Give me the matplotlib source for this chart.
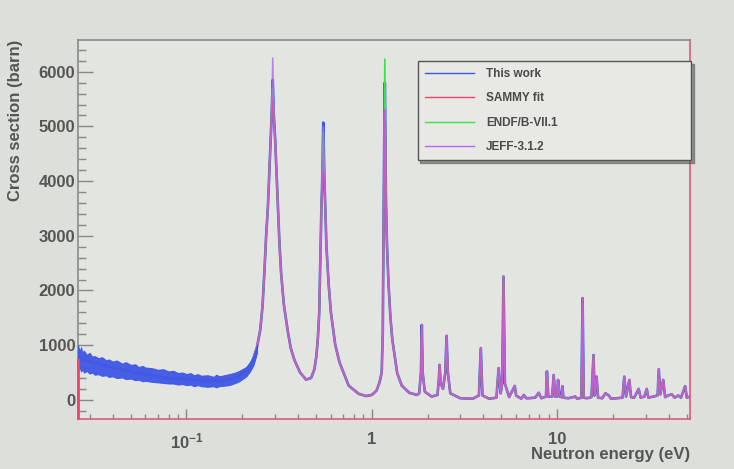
import matplotlib
matplotlib.use('Agg')
import matplotlib.pyplot as plt
from matplotlib.ticker import FixedLocator, LogLocator, MultipleLocator, NullFormatter
import numpy as np

plt.rcParams['font.family'] = ['Liberation Sans', 'DejaVu Sans']
plt.rcParams['mathtext.fontset'] = 'custom'
plt.rcParams['mathtext.rm'] = 'Liberation Sans'
plt.rcParams['mathtext.bf'] = 'Liberation Sans:bold'

# energy grid (eV) and SAMMY-like shape (barn)
energy = [0.026, 0.03, 0.035, 0.04, 0.05, 0.06, 0.07, 0.08, 0.1, 0.12, 0.14, 0.16, 0.18, 0.2,
          0.215, 0.228, 0.24, 0.25, 0.257, 0.263, 0.269, 0.275, 0.28, 0.284, 0.288, 0.292,
          0.296, 0.301, 0.306, 0.311, 0.317, 0.324, 0.335, 0.351, 0.365, 0.382, 0.41, 0.442,
          0.47, 0.49, 0.502, 0.512, 0.52, 0.524, 0.528, 0.534, 0.54, 0.547, 0.555, 0.562,
          0.569, 0.585, 0.602, 0.635, 0.67, 0.75, 0.85, 0.93, 1.0, 1.06, 1.1, 1.13, 1.145,
          1.15, 1.16, 1.168, 1.175, 1.182, 1.19, 1.205, 1.23, 1.26, 1.29, 1.37, 1.45, 1.59,
          1.75, 1.8, 1.84, 1.86, 1.88, 1.93, 2.1, 2.26, 2.3, 2.32, 2.35, 2.42, 2.49, 2.53,
          2.57, 2.65, 3.0, 3.5, 3.78, 3.87, 3.95, 4.3, 4.7, 4.83, 4.95, 5.05, 5.13, 5.22,
          5.5, 5.9, 6.0, 6.4, 6.6, 6.8, 7.0, 7.6, 7.95, 8.2, 8.7, 8.8, 8.95, 9.4, 9.57, 9.75,
          10.0, 10.1, 10.3, 10.55, 10.66, 10.8, 11.5, 12.5, 12.8, 13.5, 13.7, 13.9, 14.5,
          15.3, 15.7, 15.9, 16.3, 16.6, 17.5, 18.2, 19.0, 19.5, 21.0, 22.5, 23.0, 23.5, 24.5,
          25.0, 26.0, 27.5, 28.2, 29.5, 30.4, 31.0, 33.0, 34.8, 35.3, 36.0, 37.3, 38.2, 39.5,
          41.5, 43.0, 45.0, 46.5, 49.0, 50.0, 52.0]
shape = [760, 700, 640, 590, 520, 470, 430, 400, 370, 350, 345, 360, 400, 470,
         560, 730, 960, 1280, 1700, 2316, 3000, 3535, 4200, 4750, 5200, 5500,
         5200, 4750, 4150, 3535, 2900, 2316, 1750, 1280, 950, 730, 500, 370,
         400, 560, 800, 1150, 1585, 2150, 2800, 3450, 4020, 4200, 4020, 3400,
         2800, 2100, 1585, 1000, 680, 260, 110, 70, 90, 170, 320, 500, 1200,
         2120, 3770, 5000, 5300, 5000, 3770, 2900, 2120, 1500, 1097, 490, 260, 130,
         90, 120, 500, 1370, 500, 150, 60, 90, 400, 640, 300, 200, 500, 1170,
         500, 120, 30, 20, 80, 945, 80, 20, 40, 580, 120, 300, 2255, 300,
         50, 255, 80, 20, 90, 30, 30, 40, 130, 30, 60, 520, 60, 60, 455, 60,
         60, 365, 60, 50, 250, 40, 30, 60, 20, 40, 1860, 40, 30,
         50, 820, 80, 425, 40, 30, 120, 80, 20, 30, 40, 425, 60, 365,
         50, 40, 200, 40, 60, 200, 40, 60, 80, 560, 100, 365, 50, 80,
         100, 40, 80, 40, 250, 40, 60]

# energies of the three big resonances and each curve's peak height there
big_peaks = [0.292, 0.547, 1.175]
work_tops = [5850, 5070, 5800]
sammy_tops = [5500, 4200, 5300]
endf_tops = [5700, 4900, 6230]
jeff_tops = [6250, 5000, 5300]

# scatter band of the measured points at low energy
band_e = [0.026, 0.0265, 0.027, 0.0275, 0.028, 0.029, 0.03, 0.031, 0.032, 0.0335, 0.035, 0.037,
          0.038, 0.04, 0.042, 0.045, 0.047, 0.05, 0.053, 0.055, 0.058, 0.06, 0.065, 0.07,
          0.075, 0.08, 0.085, 0.09, 0.095, 0.1, 0.105, 0.11, 0.115, 0.12, 0.13, 0.14, 0.145,
          0.15, 0.16, 0.17, 0.18, 0.19, 0.2, 0.21, 0.22, 0.23, 0.24]
band_hi = [1000, 880, 960, 860, 900, 820, 860, 790, 800, 760, 780, 720,
           740, 700, 720, 660, 690, 640, 650, 600, 620, 590, 580, 550,
           560, 520, 530, 490, 500, 470, 490, 450, 470, 440, 450, 420, 460,
           430, 450, 470, 490, 520, 560, 600, 690, 800, 1000]
band_lo = [560, 600, 520, 560, 500, 530, 480, 500, 460, 470, 440, 450,
           420, 430, 400, 410, 380, 390, 360, 370, 340, 350, 330, 320,
           310, 300, 300, 280, 290, 270, 280, 250, 270, 250, 240, 250, 230,
           250, 260, 270, 300, 330, 380, 430, 520, 640, 860]

e = np.array(energy)
base = np.array(shape, dtype=float)


def with_tops(tops):
    y = base.copy()
    for ep, t in zip(big_peaks, tops):
        y[np.argmin(np.abs(e - ep))] = t
    return y


c_work = '#3d58e6'
c_sammy = '#f2426c'
c_endf = '#3ce24a'
c_jeff = '#b466f2'

fig = plt.figure(figsize=(7.34, 4.69), dpi=100, facecolor='#dcdfda')
ax = fig.add_axes([0.1063, 0.1066, 0.8337, 0.8081])
ax.set_facecolor('#e3e5e0')

ax.fill_between(band_e, band_lo, band_hi, color=c_work, lw=0.8, alpha=0.95, zorder=5)
ax.plot(e, with_tops(work_tops), color=c_work, lw=1.9, label='This work')
ax.plot(e, with_tops(endf_tops), color=c_endf, lw=1.2, label='ENDF/B-VII.1')
ax.plot(e, with_tops(sammy_tops), color=c_sammy, lw=1.2, label='SAMMY fit')
ax.plot(e, with_tops(jeff_tops), color=c_jeff, lw=1.1, alpha=0.8, label='JEFF-3.1.2')
ax.vlines(e[0], -350, base[0], color=c_sammy, lw=2, zorder=6, clip_on=False)

ax.set_xscale('log')
ax.set_xlim(0.026, 52)
ax.set_ylim(-350, 6580)

ax.xaxis.set_major_locator(FixedLocator([0.1, 1, 10]))
ax.xaxis.set_minor_locator(LogLocator(base=10, subs=np.arange(2, 10)))
ax.xaxis.set_minor_formatter(NullFormatter())
ax.set_xticklabels([r'$\mathbf{10^{-1}}$', '1', '10'])
ax.yaxis.set_major_locator(MultipleLocator(1000))
ax.yaxis.set_minor_locator(MultipleLocator(200))

tc = '#555555'
ax.tick_params(axis='y', which='major', direction='in', length=11, width=1, color='#888888',
               labelsize=12, labelcolor=tc, pad=2)
ax.tick_params(axis='y', which='minor', direction='in', length=5.5, width=1, color='#888888')
ax.tick_params(axis='x', which='major', direction='in', length=7, width=1, color='#888888',
               labelsize=12, labelcolor=tc, pad=9)
ax.tick_params(axis='x', which='minor', direction='in', length=3.5, width=1, color='#888888')
for lab in ax.get_xticklabels() + ax.get_yticklabels():
    lab.set_fontweight('bold')

for s in ['left', 'top']:
    ax.spines[s].set_color('#8a8a8a')
for s in ['right', 'bottom']:
    ax.spines[s].set_color('#e2587a')
for s in ax.spines.values():
    s.set_linewidth(1.2)

ax.set_ylabel('Cross section (barn)', fontsize=12, fontweight='bold', color=tc, loc='top')
ax.yaxis.set_label_coords(-0.09, 1.0)
ax.set_xlabel('Neutron energy (eV)', fontsize=12, fontweight='bold', color=tc, loc='right')
ax.xaxis.set_label_coords(1.0, -0.075)

handles, labels = ax.get_legend_handles_labels()
order = [0, 2, 1, 3]
leg = ax.legend([handles[i] for i in order], [labels[i] for i in order],
                loc='upper left', bbox_to_anchor=(0.561, 0.672, 0.389, 0.211),
                bbox_transform=fig.transFigure, mode='expand', frameon=True,
                fancybox=False, shadow=True, edgecolor='#555555', facecolor='#e8e9e5',
                fontsize=8.5, handlelength=4.2, labelspacing=1.05, borderpad=0.6,
                handletextpad=1.0, framealpha=1)
leg.set_zorder(10)
for t in leg.get_texts():
    t.set_fontweight('bold')
    t.set_color('#4a4a4a')
for h in leg.get_lines():
    h.set_linewidth(1.0)
    h.set_alpha(1)

fig.savefig('out.png', dpi=100, facecolor=fig.get_facecolor())
